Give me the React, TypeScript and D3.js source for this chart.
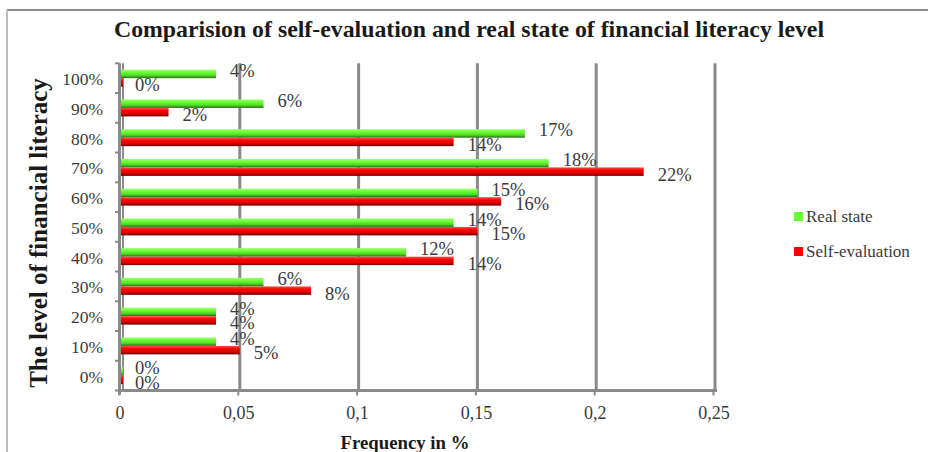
import React from "react";
import * as d3 from "d3";

const categories = ["0%", "10%", "20%", "30%", "40%", "50%", "60%", "70%", "80%", "90%", "100%"];
const realState = [0, 0.04, 0.04, 0.06, 0.12, 0.14, 0.15, 0.18, 0.17, 0.06, 0.04];
const selfEvaluation = [0, 0.05, 0.04, 0.08, 0.14, 0.15, 0.16, 0.22, 0.14, 0.02, 0];
const realLabels = ["0%", "4%", "4%", "6%", "12%", "14%", "15%", "18%", "17%", "6%", "4%"];
const selfLabels = ["0%", "5%", "4%", "8%", "14%", "15%", "16%", "22%", "14%", "2%", "0%"];
const xTicks = [0, 0.05, 0.1, 0.15, 0.2, 0.25];
const xTickLabels = ["0", "0,05", "0,1", "0,15", "0,2", "0,25"];
const seriesNames = ["Real state", "Self-evaluation"];

const W = 928;
const H = 452;
const FONT = "'Liberation Serif', 'Times New Roman', serif";

export default function App() {
  const plotLeft = 121;
  const plotRight = 715;
  const plotTop = 63.3;
  const plotBottom = 390.5;

  const x = d3.scaleLinear().domain([0, 0.25]).range([plotLeft, plotRight]);
  const yOrder = [...categories].reverse();
  const y = d3.scaleBand().domain(yOrder).range([plotTop, plotBottom]).paddingInner(0).paddingOuter(0);
  const bw = y.bandwidth();
  const groupH = bw * 0.57;
  const barH = groupH / 2;

  const series = [
    { name: seriesNames[0], values: realState, labels: realLabels, grad: "gGreen", legend: "#66ff33", off: 0, dy: -3 },
    { name: seriesNames[1], values: selfEvaluation, labels: selfLabels, grad: "gRed", legend: "#ff0000", off: 1, dy: 3 },
  ];

  const boundaries = d3.range(categories.length + 1).map((i) => plotTop + i * bw);

  return (
    <svg width={W} height={H} style={{ position: "absolute", left: 0, top: 0, background: "#fff" }} fontFamily={FONT}>
      <defs>
        <linearGradient id="gGreen" x1="0" y1="0" x2="0" y2="1">
          <stop offset="0" stopColor="#9cff6c" />
          <stop offset="0.35" stopColor="#66ff33" />
          <stop offset="0.7" stopColor="#4fd426" />
          <stop offset="1" stopColor="#266b10" />
        </linearGradient>
        <linearGradient id="gRed" x1="0" y1="0" x2="0" y2="1">
          <stop offset="0" stopColor="#ff5050" />
          <stop offset="0.35" stopColor="#ff0000" />
          <stop offset="0.7" stopColor="#d80000" />
          <stop offset="1" stopColor="#6a0000" />
        </linearGradient>
      </defs>
      <rect x={0} y={0} width={W} height={H} fill="#fff" />
      {/* frame */}
      <line x1={7} y1={10} x2={W} y2={10} stroke="#8c8c8c" strokeWidth={2} />
      <line x1={7} y1={10} x2={7} y2={H} stroke="#bdbdbd" strokeWidth={2} />

      {/* title */}
      <text x={469} y={37} textAnchor="middle" fontSize={23.8} fontWeight="bold" fill="#1a1a1a">
        Comparision of self-evaluation and real state of financial literacy level
      </text>

      {/* gridlines */}
      {xTicks.slice(1).map((t) => (
        <line key={"g" + t} x1={x(t)} x2={x(t)} y1={plotTop} y2={plotBottom} stroke="#8a8a8a" strokeWidth={3} />
      ))}
      <line x1={x(0) + 2} x2={x(0) + 2} y1={plotTop} y2={plotBottom} stroke="#8a8a8a" strokeWidth={2} />

      {/* bars */}
      {series.map((s) =>
        categories.map((c, i) => {
          const y0 = (y(c) as number) + (bw - groupH) / 2 + s.off * barH;
          const w = x(s.values[i]) - x(0);
          return (
            <rect key={s.name + c} x={x(0)} y={y0} width={Math.max(w, 2)} height={barH} fill={`url(#${s.grad})`} />
          );
        })
      )}

      {/* axes */}
      <line x1={x(0) - 1.5} x2={x(0) - 1.5} y1={plotTop} y2={plotBottom + 4} stroke="#8a8a8a" strokeWidth={3} />
      {boundaries.map((b, i) => (
        <line key={"yt" + i} x1={x(0) - 6} x2={x(0) - 1.5} y1={b} y2={b} stroke="#8a8a8a" strokeWidth={2} />
      ))}
      <line x1={x(0) - 3} x2={x(0.25) + 2} y1={plotBottom} y2={plotBottom} stroke="#8a8a8a" strokeWidth={3} />
      {xTicks.map((t) => (
        <line key={"xt" + t} x1={x(t) - 1.5} x2={x(t) - 1.5} y1={plotBottom} y2={plotBottom + 5} stroke="#8a8a8a" strokeWidth={2} />
      ))}

      {/* y tick labels */}
      {categories.map((c) => (
        <text key={"yl" + c} x={103} y={(y(c) as number) + bw / 2 + 1} dominantBaseline="central" textAnchor="end" fontSize={17.5} fill="#3a3a3a">
          {c}
        </text>
      ))}
      {/* x tick labels */}
      {xTicks.map((t, i) => (
        <text key={"xl" + t} x={x(t) - 1} y={419} textAnchor="middle" fontSize={18} fill="#3a3a3a">
          {xTickLabels[i]}
        </text>
      ))}

      {/* data labels */}
      {series.map((s) =>
        categories.map((c, i) => {
          const y0 = (y(c) as number) + (bw - groupH) / 2 + s.off * barH;
          return (
            <text key={"dl" + s.name + c} x={x(s.values[i]) + 14} y={y0 + barH / 2 + s.dy} dominantBaseline="central" fontSize={18.5} fill="#3a3a3a">
              {s.labels[i]}
            </text>
          );
        })
      )}

      {/* axis titles */}
      <text x={405} y={449} textAnchor="middle" fontSize={18.8} fontWeight="bold" fill="#1a1a1a">
        Frequency in %
      </text>
      <text transform={`translate(47, 233) rotate(-90)`} textAnchor="middle" fontSize={25} fontWeight="bold" fill="#1a1a1a">
        The level of financial literacy
      </text>

      {/* legend */}
      {series.map((s, i) => (
        <g key={"lg" + s.name} transform={`translate(794, ${212 + i * 35})`}>
          <rect x={0} y={0} width={9} height={9} fill={s.legend} />
          <text x={12} y={4.5} dominantBaseline="central" fontSize={17} fill="#3a3a3a">
            {s.name}
          </text>
        </g>
      ))}
    </svg>
  );
}
